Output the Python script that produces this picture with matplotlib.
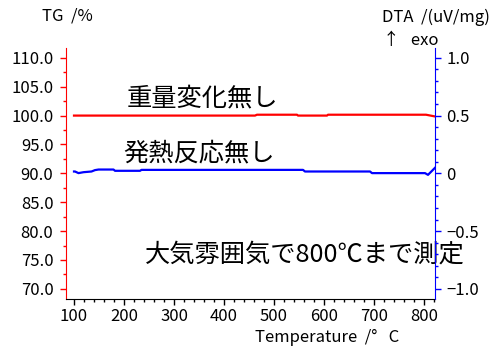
import matplotlib
matplotlib.use("Agg")
import matplotlib.pyplot as plt
from matplotlib.ticker import MultipleLocator, FixedLocator, FixedFormatter

plt.rcParams['font.family'] = ['Noto Sans CJK JP', 'DejaVu Sans']

# TG curve (mass %, left axis)
tg_temp = [100, 462, 466, 546, 548, 606, 608, 804, 822]
tg_mass = [100.0, 100.0, 100.15, 100.15, 100.0, 100.0, 100.15, 100.15, 99.85]

# DTA curve (uV/mg, right axis)
dta_temp = [100, 102, 109, 119, 135, 142, 149, 179, 182, 232, 235, 558, 562,
            692, 696, 802, 808, 822]
dta_val = [0.016, 0.016, 0.002, 0.010, 0.016, 0.028, 0.033, 0.033, 0.022,
           0.022, 0.030, 0.030, 0.016, 0.016, 0.002, 0.002, -0.013, 0.048]

x_ticks = [100, 200, 300, 400, 500, 600, 700, 800]
tg_ticks = [70.0, 75.0, 80.0, 85.0, 90.0, 95.0, 100.0, 105.0, 110.0]
tg_labels = ["70.0", "75.0", "80.0", "85.0", "90.0", "95.0", "100.0", "105.0", "110.0"]
dta_ticks = [-1.0, -0.5, 0.0, 0.5, 1.0]
dta_labels = ["\u22121.0", "\u22120.5", "0", "0.5", "1.0"]

W, H = 502, 347
fig = plt.figure(figsize=(W / 100, H / 100), dpi=100)
ax = fig.add_axes([66 / W, 1 - 298.7 / H, (435 - 66) / W, (298.7 - 48) / H])
ax2 = ax.twinx()

ax.plot(tg_temp, tg_mass, color="#ff0000", lw=1.6)
ax2.plot(dta_temp, dta_val, color="#0000ff", lw=1.6)

ax.set_xlim(84, 822)
ax.set_ylim(68.3, 111.7)
ax2.set_ylim(-1.085, 1.085)

ax.xaxis.set_major_locator(FixedLocator(x_ticks))
ax.xaxis.set_minor_locator(MultipleLocator(20))
ax.yaxis.set_major_locator(FixedLocator(tg_ticks))
ax.yaxis.set_major_formatter(FixedFormatter(tg_labels))
ax.yaxis.set_minor_locator(MultipleLocator(2.5))
ax2.yaxis.set_major_locator(FixedLocator(dta_ticks))
ax2.yaxis.set_major_formatter(FixedFormatter(dta_labels))
ax2.yaxis.set_minor_locator(MultipleLocator(0.1))

for a in (ax, ax2):
    a.spines['top'].set_visible(False)
ax.spines['left'].set_color("#ff0000")
ax.spines['right'].set_visible(False)
ax2.spines['left'].set_visible(False)
ax2.spines['bottom'].set_visible(False)
ax2.spines['right'].set_color("#0000ff")
ax.spines['bottom'].set_color("black")

tick_fs = 12
ax.tick_params(axis='x', which='major', length=4, width=1, labelsize=tick_fs, pad=3)
ax.tick_params(axis='x', which='minor', length=2, width=1)
ax.tick_params(axis='y', which='major', length=4, width=1, color="#ff0000",
               labelsize=tick_fs, pad=5)
ax.tick_params(axis='y', which='minor', length=2, width=1, color="#ff0000")
ax2.tick_params(axis='y', which='major', length=4, width=1, color="#0000ff",
                labelsize=tick_fs, pad=4)
ax2.tick_params(axis='y', which='minor', length=2, width=1, color="#0000ff")

big = 18.2
ax.text(357, 103.0, "重量変化無し", fontsize=big, ha='center', va='center')
ax.text(351, 93.5, "発熱反応無し", fontsize=big, ha='center', va='center')
ax.text(562, 75.9, "大気雰囲気で800℃まで測定", fontsize=big, ha='center', va='center')

lab_fs = 12
fig.text(42 / W, 1 - 16 / H, "TG  /%", fontsize=lab_fs, ha='left', va='center')
fig.text(490 / W, 1 - 17 / H, "DTA  /(uV/mg)", fontsize=lab_fs, ha='right', va='center')
fig.text(383 / W, 1 - 41 / H, "↑   exo", fontsize=lab_fs, ha='left', va='center')
fig.text(327 / W, 1 - 337 / H, "Temperature  /°   C", fontsize=lab_fs, ha='center', va='center')

fig.savefig("out.png", dpi=100)
